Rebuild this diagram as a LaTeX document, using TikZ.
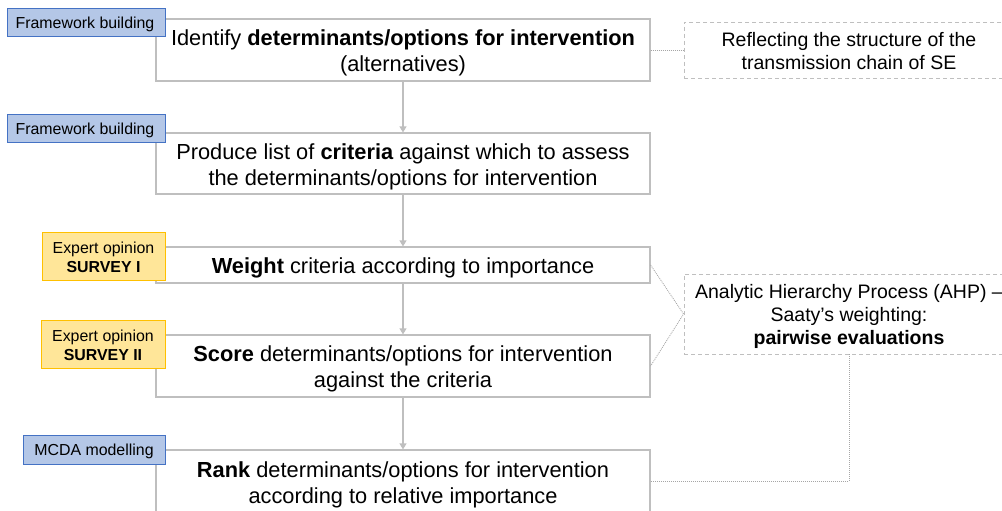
\documentclass[tikz,border=0pt]{standalone}
\usepackage{fontspec}
\setmainfont{Liberation Sans}
\usetikzlibrary{arrows.meta}
\definecolor{boxgray}{HTML}{BFBFBF}
\definecolor{dotgray}{HTML}{A6A6A6}
\definecolor{bluefill}{HTML}{B4C7E7}
\definecolor{blueline}{HTML}{4472C4}
\definecolor{yelfill}{HTML}{FFE699}
\definecolor{yelline}{HTML}{FFC000}
\tikzset{
  mainbox/.style={draw=boxgray, line width=1.2pt, fill=white, minimum width=494pt, inner sep=0pt},
  maintext/.style={align=center, inner sep=0pt, font=\fontsize{21.8}{26}\selectfont},
  bluetag/.style={draw=blueline, line width=0.9pt, fill=bluefill, inner sep=0pt},
  yeltag/.style={draw=yelline, line width=0.9pt, fill=yelfill, inner sep=0pt},
  tagtext/.style={align=center, inner sep=0pt, font=\fontsize{15.9}{18.5}\selectfont},
  notebox/.style={draw=boxgray, line width=0.9pt, dash pattern=on 4pt off 3pt, fill=white, minimum width=330pt, inner sep=0pt},
  notetext/.style={align=center, inner sep=0pt, font=\fontsize{19.5}{23}\selectfont},
  flowarrow/.style={draw=boxgray, line width=1.2pt, -{Triangle[width=7pt,length=6pt]}},
  dotline/.style={draw=dotgray, line width=0.8pt, dash pattern=on 1pt off 1pt}
}
\begin{document}
\begin{tikzpicture}[x=1pt,y=-1pt]
\useasboundingbox (0,0) rectangle (1002,511);
\clip (0,0) rectangle (1002,511);

% main steps
\node[mainbox, minimum height=62pt] (b1) at (403,50) {};
\node[maintext] (b1txt) at ([yshift=-3pt]b1.center) {Identify \textbf{determinants/options for intervention}\\(alternatives)};
\node[mainbox, minimum height=61pt] (b2) at (403,163.5) {};
\node[maintext] (b2txt) at ([yshift=-3pt]b2.center) {Produce list of \textbf{criteria} against which to assess\\the determinants/options for intervention};
\node[mainbox, minimum height=36pt] (b3) at (403,265) {};
\node[maintext] (b3txt) at ([yshift=-2.5pt]b3.center) {\textbf{Weight} criteria according to importance};
\node[mainbox, minimum height=62pt] (b4) at (403,366) {};
\node[maintext] (b4txt) at ([yshift=-3pt]b4.center) {\textbf{Score} determinants/options for intervention\\against the criteria};
\node[mainbox, minimum height=63pt] (b5) at (403,481.5) {};
\node[maintext] (b5txt) at ([yshift=-3pt]b5.center) {\textbf{Rank} determinants/options for intervention\\according to relative importance};

% notes
\node[notebox, minimum height=56pt] (r1) at (849,50) {};
\node[notetext] (r1txt) at ([yshift=-1.5pt]r1.center) {Reflecting the structure of the\\transmission chain of SE};
\node[notebox, minimum height=80pt] (r2) at (849,314) {};
\node[notetext] (r2txt) at ([yshift=-2pt]r2.center) {Analytic Hierarchy Process (AHP) --\\Saaty’s weighting:\\\textbf{pairwise evaluations}};

% connectors
\draw[flowarrow] (b1.south) -- (b2.north);
\draw[flowarrow] (b2.south) -- (b3.north);
\draw[flowarrow] (b3.south) -- (b4.north);
\draw[flowarrow] (b4.south) -- (b5.north);

\draw[dotline] (b1.east) -- (r1.west);
\draw[dotline] (b3.east) -- (r2.west) -- (b4.east);
\draw[dotline] (r2.south) |- (b5.east);

% tags
\node[bluetag, minimum width=158pt, minimum height=28pt] (t1) at (86,22) {};
\node[tagtext] (t1txt) at ([xshift=-1pt,yshift=-2pt]t1.center) {Framework building};
\node[bluetag, minimum width=158pt, minimum height=28pt] (t2) at (86,128) {};
\node[tagtext] (t2txt) at ([xshift=-1pt,yshift=-2pt]t2.center) {Framework building};
\node[yeltag, minimum width=123pt, minimum height=48pt] (t3) at (103.5,256) {};
\node[tagtext] (t3txt) at ([yshift=-1.5pt]t3.center) {Expert opinion\\\textbf{SURVEY I}};
\node[yeltag, minimum width=124pt, minimum height=48pt] (t4) at (103,344) {};
\node[tagtext] (t4txt) at ([yshift=-1.5pt]t4.center) {Expert opinion\\\textbf{SURVEY II}};
\node[bluetag, minimum width=142pt, minimum height=29pt] (t5) at (94,449.5) {};
\node[tagtext] (t5txt) at ([yshift=-2pt]t5.center) {MCDA modelling};
\end{tikzpicture}
\end{document}
